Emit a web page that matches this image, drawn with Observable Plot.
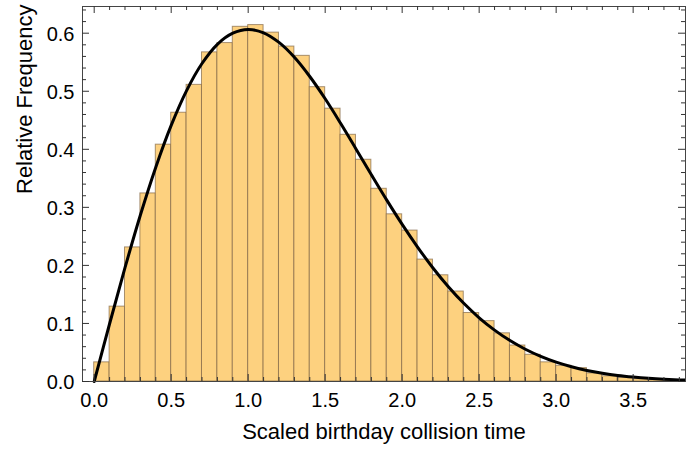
<!DOCTYPE html>
<html><head><meta charset="utf-8">
<script src="https://cdn.jsdelivr.net/npm/d3@7"></script>
<script src="https://cdn.jsdelivr.net/npm/@observablehq/plot@0.6"></script>
<style>body{margin:0;background:#fff}</style>
</head><body><div id="chart"></div>
<script>
const binStarts = [0.0,0.1,0.2,0.3,0.4,0.5,0.6,0.7,0.8,0.9,1.0,1.1,1.2,1.3,1.4,1.5,1.6,1.7,1.8,1.9,2.0,2.1,2.2,2.3,2.4,2.5,2.6,2.7,2.8,2.9,3.0,3.1,3.2,3.3,3.4,3.5,3.6,3.7,3.8];
const binWidth = 0.1;
const relFreq = [0.033,0.129,0.231,0.324,0.408,0.463,0.511,0.567,0.583,0.611,0.614,0.601,0.577,0.561,0.507,0.470,0.425,0.382,0.332,0.288,0.260,0.210,0.183,0.155,0.118,0.104,0.083,0.062,0.046,0.033,0.027,0.023,0.014,0.009,0.006,0.004,0.0025,0.0015,0.001];
const curveX = [0.0,0.1,0.2,0.3,0.4,0.5,0.6,0.7,0.8,0.9,1.0,1.1,1.2,1.3,1.4,1.5,1.6,1.7,1.8,1.9,2.0,2.1,2.2,2.3,2.4,2.5,2.6,2.7,2.8,2.9,3.0,3.1,3.2,3.3,3.4,3.5,3.6,3.7,3.8,3.9];
const curveY = [0.0,0.0995,0.196,0.2868,0.3692,0.4412,0.5012,0.5478,0.5809,0.600,0.6065,0.6007,0.5841,0.5585,0.5254,0.487,0.4448,0.4007,0.3562,0.3125,0.2707,0.2316,0.1956,0.1633,0.1347,0.1098,0.0885,0.0705,0.0556,0.0433,0.0333,0.0254,0.0191,0.0143,0.0105,0.0077,0.0055,0.0039,0.0028,0.0019];
const xTickValues = [0.0,0.5,1.0,1.5,2.0,2.5,3.0,3.5];
const yTickValues = [0.0,0.1,0.2,0.3,0.4,0.5,0.6];
const xLabel = "Scaled birthday collision time";
const yLabel = "Relative Frequency";

const bars = binStarts.map((x0, i) => ({x0, x1: x0 + binWidth, f: relFreq[i]}));
const curve = curveX.map((x, i) => ({x, y: curveY[i]}));

const xMin = -0.076, xMax = 3.84, yMax = 0.646;
const W = 686, H = 449, mL = 82, mR = 1, mT = 6, mB = 68;
const pxX = (W - mL - mR) / (xMax - xMin);
const pxY = (H - mT - mB) / yMax;
const xMinor = d3.range(0, 3.85, 0.1).filter(v => !xTickValues.some(t => Math.abs(t - v) < 1e-6));
const yMinor = d3.range(0, 0.645, 0.02).filter(v => !yTickValues.some(t => Math.abs(t - v) < 1e-6));
const maj = 7, mnr = 4;
const tickStyle = {stroke: "#333", strokeWidth: 1};

const chart = Plot.plot({
  width: W, height: H,
  marginLeft: mL, marginRight: mR, marginTop: mT, marginBottom: mB,
  x: {domain: [xMin, xMax]},
  y: {domain: [0, yMax]},
  style: {fontFamily: "'Liberation Sans', Arial, sans-serif", fontSize: "20px", color: "#000", background: "#fff"},
  marks: [
    Plot.rectY(bars, {x1: "x0", x2: "x1", y: "f", fill: "#FDD17F", stroke: "#7a6040", strokeOpacity: 0.65, strokeWidth: 1}),
    Plot.line(curve, {x: "x", y: "y", stroke: "#000", strokeWidth: 3, curve: "catmull-rom"}),
    Plot.frame({stroke: "#444", strokeWidth: 1}),
    Plot.ruleX(xTickValues, {x: d => d, y1: 0, y2: maj / pxY, ...tickStyle}),
    Plot.ruleX(xMinor, {x: d => d, y1: 0, y2: mnr / pxY, ...tickStyle}),
    Plot.ruleX(xTickValues, {x: d => d, y1: yMax, y2: yMax - maj / pxY, ...tickStyle}),
    Plot.ruleX(xMinor, {x: d => d, y1: yMax, y2: yMax - mnr / pxY, ...tickStyle}),
    Plot.ruleY(yTickValues, {y: d => d, x1: xMin, x2: xMin + maj / pxX, ...tickStyle}),
    Plot.ruleY(yMinor, {y: d => d, x1: xMin, x2: xMin + mnr / pxX, ...tickStyle}),
    Plot.ruleY(yTickValues, {y: d => d, x1: xMax, x2: xMax - maj / pxX, ...tickStyle}),
    Plot.ruleY(yMinor, {y: d => d, x1: xMax, x2: xMax - mnr / pxX, ...tickStyle}),
    Plot.axisX(xTickValues, {tickSize: 0, tickPadding: 11, tickFormat: d3.format(".1f"), label: null, fontSize: 20}),
    Plot.axisY(yTickValues, {tickSize: 0, tickPadding: 8, tickFormat: d3.format(".1f"), label: null, fontSize: 20, dy: 1}),
    Plot.text([xLabel], {frameAnchor: "bottom", dy: 57, text: d => d, fill: "#000", fontSize: 22}),
    Plot.text([yLabel], {frameAnchor: "left", dx: -58, rotate: -90, text: d => d, fill: "#000", fontSize: 22})
  ]
});
document.getElementById("chart").appendChild(chart);
</script>
</body></html>
